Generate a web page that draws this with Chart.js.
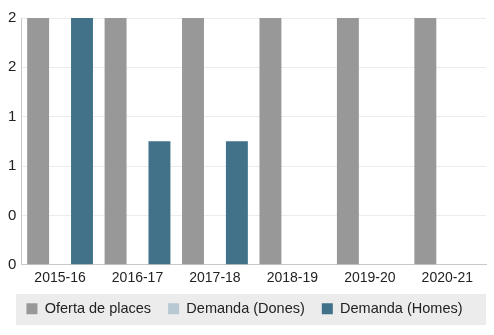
<!DOCTYPE html>
<html>
<head>
<meta charset="utf-8">
<script src="https://cdn.jsdelivr.net/npm/chart.js@4/dist/chart.umd.min.js"></script>
<style>
  html, body { margin: 0; padding: 0; background: #fff; }
  #wrap { width: 494px; height: 335px; }
</style>
</head>
<body>
<div id="wrap"><canvas id="chart"></canvas></div>
<script>
const cursos = ['2015-16', '2016-17', '2017-18', '2018-19', '2019-20', '2020-21'];
const ofertaPlaces = [2, 2, 2, 2, 2, 2];
const demandaDones = [null, null, null, null, null, null];
const demandaHomes = [2, 1, 1, null, null, null];
const yTicks = [0, 0.4, 0.8, 1.2, 1.6, 2];

const LEGEND_PAD = 17;

// fons gris darrere la llegenda
const legendBg = {
    id: 'legendBg',
    beforeDraw(chart) {
        const lg = chart.legend;
        if (!lg) return;
        const mid = lg.top + LEGEND_PAD + 7.5;
        const ctx = chart.ctx;
        ctx.save();
        ctx.fillStyle = '#ececec';
        ctx.fillRect(16, Math.round(mid - 15.5), 470, 31);
        ctx.restore();
    }
};

Chart.defaults.font.family = '"Liberation Sans", Arial, sans-serif';
Chart.defaults.color = '#222';

new Chart(document.getElementById('chart').getContext('2d'), {
    type: 'bar',
    data: {
        labels: cursos,
        datasets: [
            { label: 'Oferta de places', data: ofertaPlaces, backgroundColor: '#989898' },
            { label: 'Demanda (Dones)', data: demandaDones, backgroundColor: '#b7c8d3' },
            { label: 'Demanda (Homes)', data: demandaHomes, backgroundColor: '#417289' }
        ]
    },
    options: {
        responsive: true, maintainAspectRatio: false, animation: false,
        layout: { padding: { top: 18, right: 8, left: 3, bottom: 9 } },
        datasets: { bar: { categoryPercentage: 0.85, barPercentage: 1.0 } },
        scales: {
            x: {
                grid: { display: false, drawTicks: false },
                border: { color: '#c8c8c8' },
                ticks: { font: { size: 14 }, color: '#222', padding: 5 },
                afterFit: (s) => { s.height -= 7; } // labels may sit over the legend padding
            },
            y: {
                min: 0, max: 2,
                afterBuildTicks: (axis) => { axis.ticks = yTicks.map(v => ({ value: v })); },
                grid: { color: '#ececec', drawTicks: false },
                border: { color: '#c8c8c8' },
                ticks: { font: { size: 15 }, color: '#222', padding: 5, callback: (v) => Math.round(v) }
            }
        },
        plugins: {
            legend: {
                position: 'bottom',
                labels: { boxWidth: 11, boxHeight: 11, padding: LEGEND_PAD, font: { size: 14.5 }, color: '#222' }
            },
            tooltip: { enabled: false }
        }
    },
    plugins: [legendBg]
});
</script>
</body>
</html>
